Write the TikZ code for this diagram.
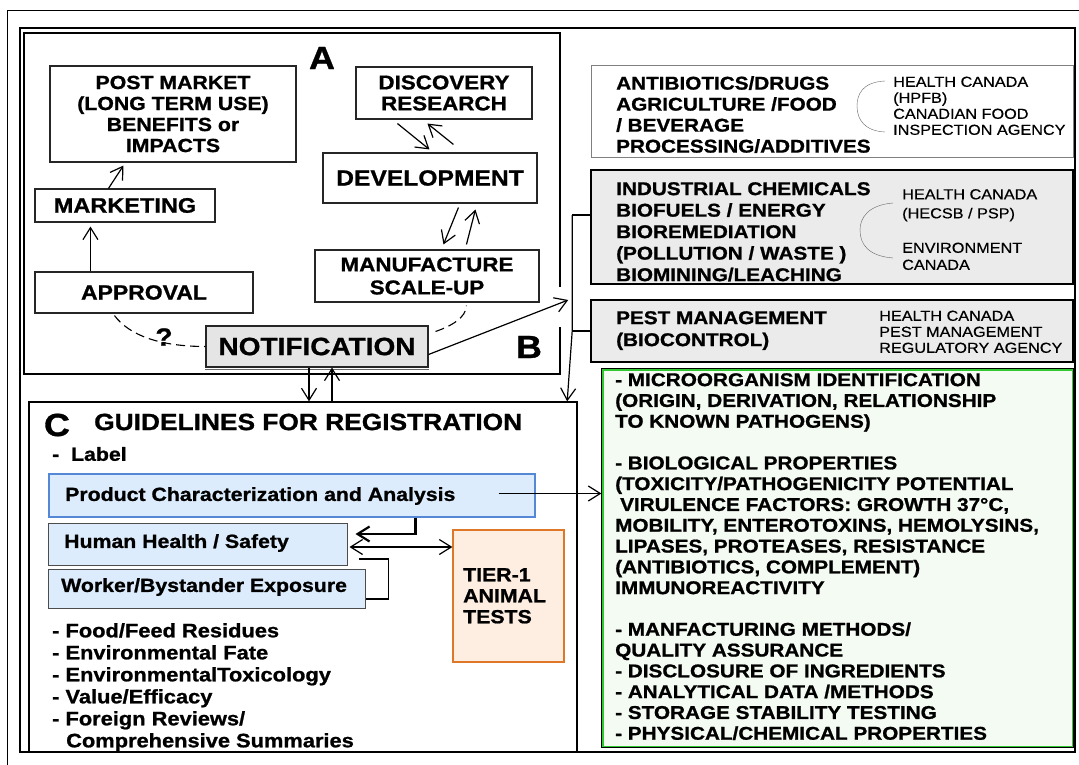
\documentclass[tikz,border=0pt]{standalone}
\usepackage{fontspec}
\setmainfont{Liberation Sans}[FakeStretch=1.12,BoldFeatures={FakeBold=1}]
\newfontfamily\agencyfont{Liberation Sans}[FakeStretch=1.12,FakeBold=0.5]
\usetikzlibrary{arrows.meta}
\definecolor{paleblue}{RGB}{221,236,252}
\definecolor{prodline}{RGB}{85,135,215}
\definecolor{peach}{RGB}{253,238,225}
\definecolor{tierline}{RGB}{222,120,40}
\definecolor{palegreen}{RGB}{244,251,242}
\definecolor{gline}{RGB}{50,200,50}
\begin{document}
\begin{tikzpicture}[x=1pt,y=-1pt,
    every node/.style={inner sep=0pt},
    box/.style={draw=black!85,line width=1.1pt,fill=white,align=center},
    greybox/.style={draw=black,line width=1.6pt,fill=black!8},
    lightbox/.style={draw=black!70,line width=1pt,fill=paleblue},
    bigletter/.style={font=\bfseries\fontsize{32}{32}\selectfont},
    txt/.style={font=\bfseries\fontsize{18.5}{21}\selectfont,align=left,anchor=north west},
    agency/.style={font=\agencyfont\fontsize{14.5}{16}\selectfont,align=left,anchor=north west},
    arr/.style={-{Straight Barb[length=12pt,width=15pt]},line width=1.2pt},
    darr/.style={{Straight Barb[length=12pt,width=15pt]}-{Straight Barb[length=12pt,width=15pt]},line width=1.2pt},
    dashedarc/.style={dash pattern=on 9pt off 5pt,line width=1.1pt}]
  \useasboundingbox[fill=white] (0,0) rectangle (1079,765);
  % frames
  \draw[line width=1pt] (7,775) -- (7,11) -- (1090,11);
  \draw[line width=1.2pt] (20,28) rectangle (1075,752);
  % box A, open where the arrow leaves it
  \draw[line width=1.8pt] (560,287) -- (560,33) -- (24,33) -- (24,374) -- (560,374) -- (560,327);
  \node[bigletter] (letA) at (322,58) {A};
  \node[box,minimum width=246,minimum height=96,font=\bfseries\fontsize{19}{21}\selectfont] (post) at (173,114) {POST MARKET\\(LONG TERM USE)\\BENEFITS or\\IMPACTS};
  \node[box,minimum width=176,minimum height=52,font=\bfseries\fontsize{20}{21}\selectfont] (disc) at (444,93) {DISCOVERY\\RESEARCH};
  \node[box,minimum width=214,minimum height=50,font=\bfseries\fontsize{22}{22}\selectfont] (devel) at (430,178) {DEVELOPMENT};
  \node[box,minimum width=180,minimum height=33,font=\bfseries\fontsize{21}{21}\selectfont] (market) at (125,205.5) {MARKETING};
  \node[box,minimum width=218,minimum height=41,font=\bfseries\fontsize{20.5}{21}\selectfont] (approval) at (144,292.5) {APPROVAL};
  \node[box,minimum width=224,minimum height=52,font=\bfseries\fontsize{20}{23}\selectfont] (manuf) at (427,276) {MANUFACTURE\\SCALE-UP};
  \node[box,fill=black!10,minimum width=222,minimum height=41,font=\bfseries\fontsize{25}{25}\selectfont] (notif) at (317,346.5) {NOTIFICATION};
  \draw[black!60,line width=1pt] ([yshift=-1.5]notif.south west) -- ([yshift=-1.5]notif.south east);
  \node[bigletter] (letB) at (529,347) {B};
  % cycle inside A
  \draw[arr] ([xshift=56]approval.north west) -- ([xshift=56,yshift=-4]market.south west);
  \draw[arr] ([xshift=74]market.north west) -- ([xshift=74,yshift=-3]post.south west);
  \draw[arr] ([xshift=42,yshift=-4]disc.south west) -- ([xshift=107,yshift=3]devel.north west);
  \draw[arr] ([xshift=131,yshift=8]devel.north west) -- ([xshift=72,yshift=-4]disc.south west);
  \draw[arr] ([xshift=136,yshift=-4]devel.south west) -- ([xshift=129,yshift=5]manuf.north west);
  \draw[arr] ([xshift=152,yshift=5]manuf.north west) -- ([xshift=153,yshift=-6]devel.south west);
  \draw[dashedarc] ([xshift=80,yshift=-2]approval.south west) .. controls +(15,20) and +(-45,0) .. (notif.west);
  \draw[dashedarc] ([xshift=7,yshift=-6]notif.north east) .. controls +(15,-5) and +(0,12) .. ([xshift=152,yshift=-3]manuf.south west);
  \node[font=\bfseries\fontsize{25}{25}\selectfont] (qmark) at (164,337) {?};
  % B: product groups and agencies
  \node[box,draw=black!50,line width=1pt,minimum width=482,minimum height=92] (drugs) at (832,112) {};
  \node[greybox,minimum width=482,minimum height=114] (chem) at (832,227) {};
  \node[greybox,minimum width=482,minimum height=62] (pest) at (832,331) {};
  \node[txt] (drugstxt) at (616,76) {ANTIBIOTICS/DRUGS\\AGRICULTURE /FOOD\\/ BEVERAGE\\PROCESSING/ADDITIVES};
  \node[agency] (drugsag) at (893,76.5) {HEALTH CANADA\\(HPFB)\\CANADIAN FOOD\\INSPECTION AGENCY};
  \draw[black!60] (885,81) .. controls (862,82) and (857,95) .. (857,106) .. controls (857,120) and (865,131) .. (885,132);
  \node[txt,font=\bfseries\fontsize{18.5}{21.5}\selectfont] (chemtxt) at (616,182) {INDUSTRIAL CHEMICALS\\BIOFUELS / ENERGY\\BIOREMEDIATION\\(POLLUTION / WASTE )\\BIOMINING/LEACHING};
  \node[agency,font=\agencyfont\fontsize{14.5}{19}\selectfont] (chemagA) at (902,189) {HEALTH CANADA\\(HECSB / PSP)};
  \node[agency,font=\agencyfont\fontsize{14.5}{17}\selectfont] (chemagB) at (902,242.5) {ENVIRONMENT\\CANADA};
  \draw[black!60] (893,203) .. controls (868,205) and (860,218) .. (860,230) .. controls (860,244) and (868,256) .. (893,258);
  \node[txt,font=\bfseries\fontsize{18.5}{22}\selectfont] (pesttxt) at (616,311) {PEST MANAGEMENT\\(BIOCONTROL)};
  \node[agency] (pestag) at (879,310.5) {HEALTH CANADA\\PEST MANAGEMENT\\REGULATORY AGENCY};
  % data required
  \node[draw=black,line width=1.2pt,fill=palegreen,minimum width=471,minimum height=378] (props) at (837.5,558) {};
  \draw[gline,line width=1.2pt] ([shift={(1.5,1.5)}]props.north west) rectangle ([shift={(-1.5,-1.5)}]props.south east);
  \node[txt,font=\bfseries\fontsize{18.5}{20.8}\selectfont] (propstxt) at (615,373) {- MICROORGANISM IDENTIFICATION\\(ORIGIN, DERIVATION, RELATIONSHIP\\TO KNOWN PATHOGENS)\\[20.8pt]- BIOLOGICAL PROPERTIES\\(TOXICITY/PATHOGENICITY POTENTIAL\\\hspace*{5pt}VIRULENCE FACTORS: GROWTH 37°C,\\MOBILITY, ENTEROTOXINS, HEMOLYSINS,\\LIPASES, PROTEASES, RESISTANCE\\(ANTIBIOTICS, COMPLEMENT)\\IMMUNOREACTIVITY\\[20.8pt]- MANFACTURING METHODS/\\QUALITY ASSURANCE\\- DISCLOSURE OF INGREDIENTS\\- ANALYTICAL DATA /METHODS\\- STORAGE STABILITY TESTING\\- PHYSICAL/CHEMICAL PROPERTIES};
  % C: guidelines
  \node[draw=black,line width=1.3pt,minimum width=548,minimum height=350] (cbox) at (303,577) {};
  \node[bigletter] (letC) at (57,425) {C};
  \node[font=\bfseries\fontsize{23.5}{23.5}\selectfont,anchor=west] (title) at (94,422) {GUIDELINES FOR REGISTRATION};
  \node[font=\bfseries\fontsize{19}{19}\selectfont,anchor=west] (label) at (52,454) {-\ \ Label};
  \node[draw=prodline,line width=1.2pt,fill=paleblue,minimum width=486,minimum height=43] (prod) at (292,495.5) {};
  \node[font=\bfseries\fontsize{19}{19}\selectfont,anchor=west] (prodtxt) at (65,496) {Product Characterization and Analysis};
  \node[lightbox,minimum width=299,minimum height=42] (human) at (197.5,544) {};
  \node[font=\bfseries\fontsize{19}{19}\selectfont,anchor=west] (humantxt) at (64,543) {Human Health / Safety};
  \node[lightbox,minimum width=317,minimum height=39] (worker) at (206.5,588.5) {};
  \node[font=\bfseries\fontsize{19}{19}\selectfont,anchor=west] (workertxt) at (61,587) {Worker/Bystander Exposure};
  \node[draw=tierline,line width=1.2pt,fill=peach,minimum width=111,minimum height=132] (tier) at (508.5,596) {};
  \node[txt,font=\bfseries\fontsize{19}{21}\selectfont] (tiertxt) at (463,568) {TIER-1\\ANIMAL\\TESTS};
  \node[txt,font=\bfseries\fontsize{19.5}{22}\selectfont] (misc) at (52,623) {- Food/Feed Residues\\- Environmental Fate\\- EnvironmentalToxicology\\- Value/Efficacy\\- Foreign Reviews/\\\hspace*{14pt}Comprehensive Summaries};
  % connectors
  \draw[line width=1.1pt] ([yshift=12]chem.west) -- ++(-18,0) coordinate (bustop);
  \draw[line width=1.1pt] (pest.west) -- ++(-18,0) coordinate (busmid);
  \coordinate (busend) at ([xshift=-5]busmid);
  \draw[arr] (bustop) -- (busmid) -- (busend |- cbox.north);
  \draw[arr] ([yshift=-8]notif.east) -- ([xshift=-4,yshift=-85]bustop);
  \coordinate (ndown) at ([xshift=-8]notif.south);
  \coordinate (nup) at ([xshift=15]notif.south);
  \draw[arr] (ndown) -- (ndown |- cbox.north);
  \draw[arr] (nup |- cbox.north) -- (nup);
  \coordinate (pa) at ([xshift=-37,yshift=2]prod.east);
  \draw[arr] (pa) -- (pa -| props.west);
  \draw[arr,line width=2.2pt] ([xshift=367]prod.south west) |- ([xshift=8,yshift=10]human.east);
  \coordinate (hh) at ([xshift=2,yshift=-3]human.east);
  \draw[darr] (hh) -- (hh -| tier.west);
  \draw[line width=1.1pt] ([xshift=11,yshift=-15]human.east) -- ++(30,0) |- ([yshift=-10.5]worker.east);
\end{tikzpicture}
\end{document}
